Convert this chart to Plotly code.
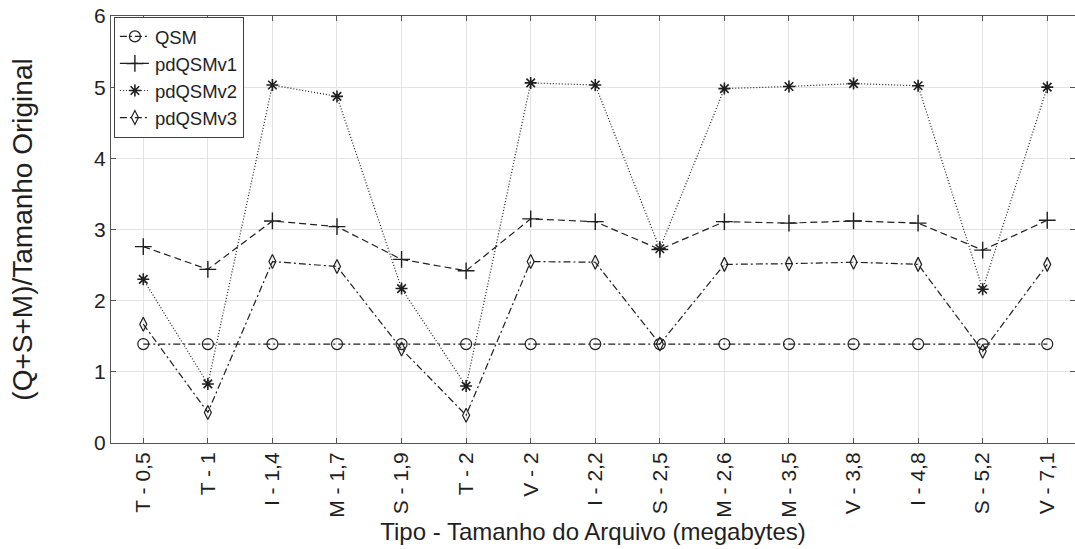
import plotly.graph_objects as go

# Categories: file type - file size (MB)
categorias = ["T - 0,5", "T - 1", "I - 1,4", "M - 1,7", "S - 1,9", "T - 2", "V - 2",
              "I - 2,2", "S - 2,5", "M - 2,6", "M - 3,5", "V - 3,8", "I - 4,8",
              "S - 5,2", "V - 7,1"]

qsm = [1.39, 1.39, 1.39, 1.39, 1.39, 1.39, 1.39, 1.39, 1.39, 1.39, 1.39, 1.39, 1.39, 1.39, 1.39]
pdqsm_v1 = [2.76, 2.44, 3.12, 3.04, 2.58, 2.42, 3.15, 3.11, 2.72, 3.11, 3.09, 3.12, 3.09, 2.71, 3.13]
pdqsm_v2 = [2.30, 0.83, 5.03, 4.87, 2.17, 0.80, 5.06, 5.03, 2.73, 4.98, 5.01, 5.05, 5.02, 2.16, 5.00]
pdqsm_v3 = [1.67, 0.43, 2.55, 2.48, 1.32, 0.39, 2.55, 2.54, 1.39, 2.51, 2.52, 2.54, 2.51, 1.29, 2.51]

y_ticks = [0, 1, 2, 3, 4, 5, 6]

FONT = "Arial, Liberation Sans, Helvetica, sans-serif"
INK = "#1f1f1f"
x = list(range(len(categorias)))

series = [
    ("QSM", qsm, "7px,3px,2px,3px", "circle-open", 11, 1.2),
    ("pdQSMv1", pdqsm_v1, "7px,4px", "cross-thin-open", 12, 1.4),
    ("pdQSMv2", pdqsm_v2, "1px,2px", "asterisk-open", 10, 1.6),
    ("pdQSMv3", pdqsm_v3, "7px,3px,2px,3px", "diamond-tall-open", 10, 1.2),
]

fig = go.Figure()
for nome, vals, dash, simbolo, tam, lw in series:
    fig.add_trace(go.Scatter(
        x=x, y=vals, name=nome, mode="lines+markers",
        line=dict(color=INK, width=1.2, dash=dash),
        marker=dict(symbol=simbolo, size=tam, color=INK,
                    line=dict(color=INK, width=lw)),
    ))

axis_common = dict(
    showline=True, linecolor="#555555", linewidth=1, mirror="ticks",
    ticks="inside", ticklen=5, tickcolor="#555555",
    showgrid=True, gridcolor="#e3e3e3", gridwidth=1, zeroline=False,
    tickfont=dict(family=FONT, size=21, color=INK),
)

fig.update_xaxes(
    **axis_common,
    range=[-0.5, 14.43], tickmode="array", tickvals=x, ticktext=categorias,
    tickangle=-90,
    title=dict(text="Tipo - Tamanho do Arquivo (megabytes)",
               font=dict(family=FONT, size=24, color=INK), standoff=2),
)
fig.update_yaxes(
    **axis_common,
    range=[0, 6], tickmode="array", tickvals=y_ticks,
    title=dict(text="(Q+S+M)/Tamanho Original",
               font=dict(family=FONT, size=28, color=INK), standoff=53),
)

fig.update_layout(
    width=1075, height=549,
    margin=dict(l=111, r=0, t=16, b=106, autoexpand=False),
    paper_bgcolor="white", plot_bgcolor="white",
    showlegend=True,
    legend=dict(
        x=0.003, y=0.998, xanchor="left", yanchor="top",
        bgcolor="white", bordercolor="#404040", borderwidth=1,
        font=dict(family=FONT, size=18.5, color=INK),
        tracegroupgap=0, itemwidth=30,
    ),
)

fig.write_html("out.html")
